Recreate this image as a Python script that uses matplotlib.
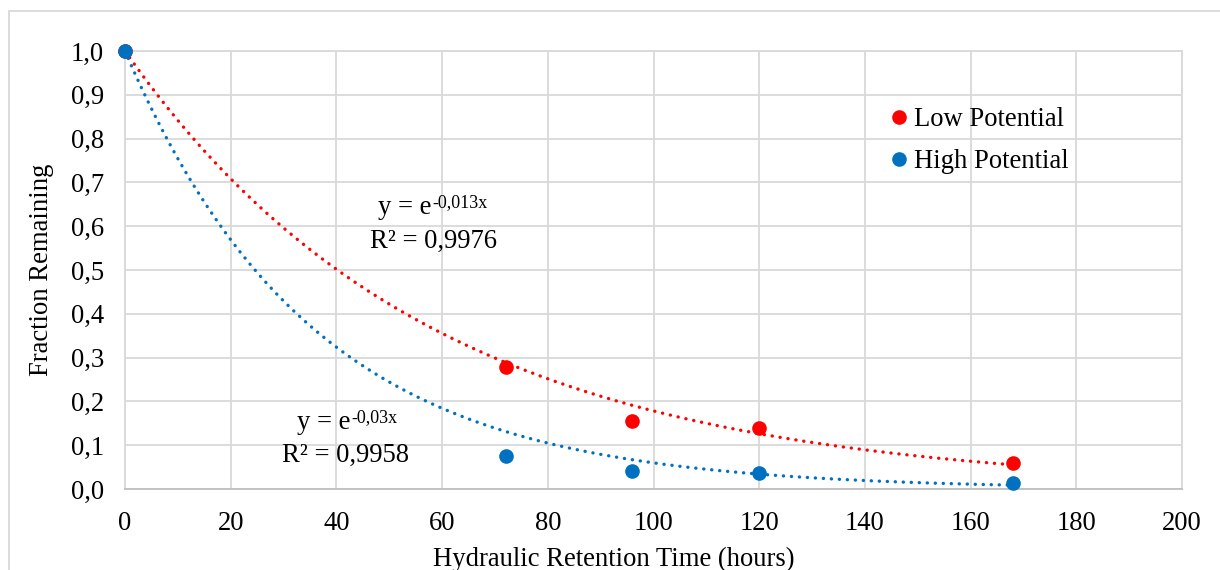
import numpy as np
import matplotlib
matplotlib.use("Agg")
import matplotlib.pyplot as plt
from matplotlib.lines import Line2D
from matplotlib.patches import Rectangle

plt.rcParams['font.family'] = ['Liberation Serif', 'DejaVu Serif']

# Data
hrt_hours = [0, 72, 96, 120, 168]
low_potential = [1.0, 0.278, 0.155, 0.139, 0.059]
high_potential = [1.0, 0.075, 0.041, 0.0365, 0.014]
series_names = ["Low Potential", "High Potential"]
x_ticks = [0, 20, 40, 60, 80, 100, 120, 140, 160, 180, 200]
y_ticks = [0.0, 0.1, 0.2, 0.3, 0.4, 0.5, 0.6, 0.7, 0.8, 0.9, 1.0]
y_tick_labels = ["0,0", "0,1", "0,2", "0,3", "0,4", "0,5", "0,6", "0,7", "0,8", "0,9", "1,0"]
low_eq_exp = "-0,013x"
low_r2 = "R² = 0,9976"
high_eq_exp = "-0,03x"
high_r2 = "R² = 0,9958"

RED = "#ff0000"
BLUE = "#0070c0"
GRID = "#d9d9d9"
FS = 19.2

W, H = 1220, 570
fig = plt.figure(figsize=(W / 100, H / 100), dpi=100)
fig.patches.append(Rectangle((9 / W, -0.1), 1.2, 1 - 11 / H + 0.1, transform=fig.transFigure,
                             fill=False, edgecolor=GRID, linewidth=1.3))
ax = fig.add_axes([125 / W, 1 - 489 / H, (1182 - 125) / W, (489 - 51) / H])

ax.set_xlim(0, 200)
ax.set_ylim(0, 1.0)
ax.set_xticks(x_ticks)
ax.set_xticklabels([str(v) for v in x_ticks])
ax.set_yticks(y_ticks)
ax.set_yticklabels(y_tick_labels)
ax.grid(True, color=GRID, linewidth=1.3)
ax.set_axisbelow(True)
for s in ax.spines.values():
    s.set_color(GRID)
    s.set_linewidth(1.3)
ax.spines['bottom'].set_color("#bfbfbf")
ax.tick_params(length=0, labelsize=FS)
ax.tick_params(axis='y', pad=15)
ax.tick_params(axis='x', pad=16)

# Exponential fits through origin value 1 (least squares in log space)
def fit_k(x, y):
    x = np.asarray(x, float)
    ly = np.log(np.asarray(y, float))
    return np.sum(x * ly) / np.sum(x * x)

xs = np.linspace(0, hrt_hours[-1], 300)
k_low = fit_k(hrt_hours, low_potential)
k_high = fit_k(hrt_hours, high_potential)
ax.plot(xs, np.exp(k_low * xs), color=RED, linewidth=2.4, linestyle=(0, (0.05, 2.35)),
        dash_capstyle='round', zorder=2)
ax.plot(xs, np.exp(k_high * xs), color=BLUE, linewidth=2.4, linestyle=(0, (0.05, 2.35)),
        dash_capstyle='round', zorder=2)

ax.plot(hrt_hours, low_potential, 'o', color=RED, markersize=9.5, zorder=3, clip_on=False)
ax.plot(hrt_hours, high_potential, 'o', color=BLUE, markersize=9.5, zorder=3, clip_on=False)

def px2data(px, py):
    return (px - 125) / (1182 - 125) * 200, (489 - py) / (489 - 51)

def equation(px, py, exp):
    x, y = px2data(px, py)
    t = ax.text(x, y, "y = e", fontsize=FS, ha='left', va='baseline')
    ax.annotate(exp, xy=(1, 0), xycoords=t, xytext=(0.5, 9.5), textcoords='offset points',
                fontsize=13, ha='left', va='baseline')

equation(378, 214, low_eq_exp)
x, y = px2data(434, 248)
ax.text(x, y, low_r2, fontsize=FS, ha='center', va='baseline')
equation(297, 429, high_eq_exp)
x, y = px2data(346, 462)
ax.text(x, y, high_r2, fontsize=FS, ha='center', va='baseline')

handles = [Line2D([], [], marker='o', linestyle='', color=RED, markersize=9.5),
           Line2D([], [], marker='o', linestyle='', color=BLUE, markersize=9.5)]
ax.legend(handles, series_names, loc='upper left', bbox_to_anchor=(878 / W, 1 - 94 / H),
          bbox_transform=fig.transFigure, frameon=False, fontsize=FS,
          handlelength=0.6, handletextpad=0.25, labelspacing=0.62, borderpad=0)

ax.set_ylabel("Fraction Remaining", fontsize=FS, labelpad=12)
ax.set_xlabel("Hydraulic Retention Time (hours)", fontsize=FS)
ax.xaxis.set_label_coords((613.5 - 125) / (1182 - 125), -(566 - 489) / (489 - 51))
ax.xaxis.label.set_va('baseline')

fig.savefig("out.png", dpi=100)
